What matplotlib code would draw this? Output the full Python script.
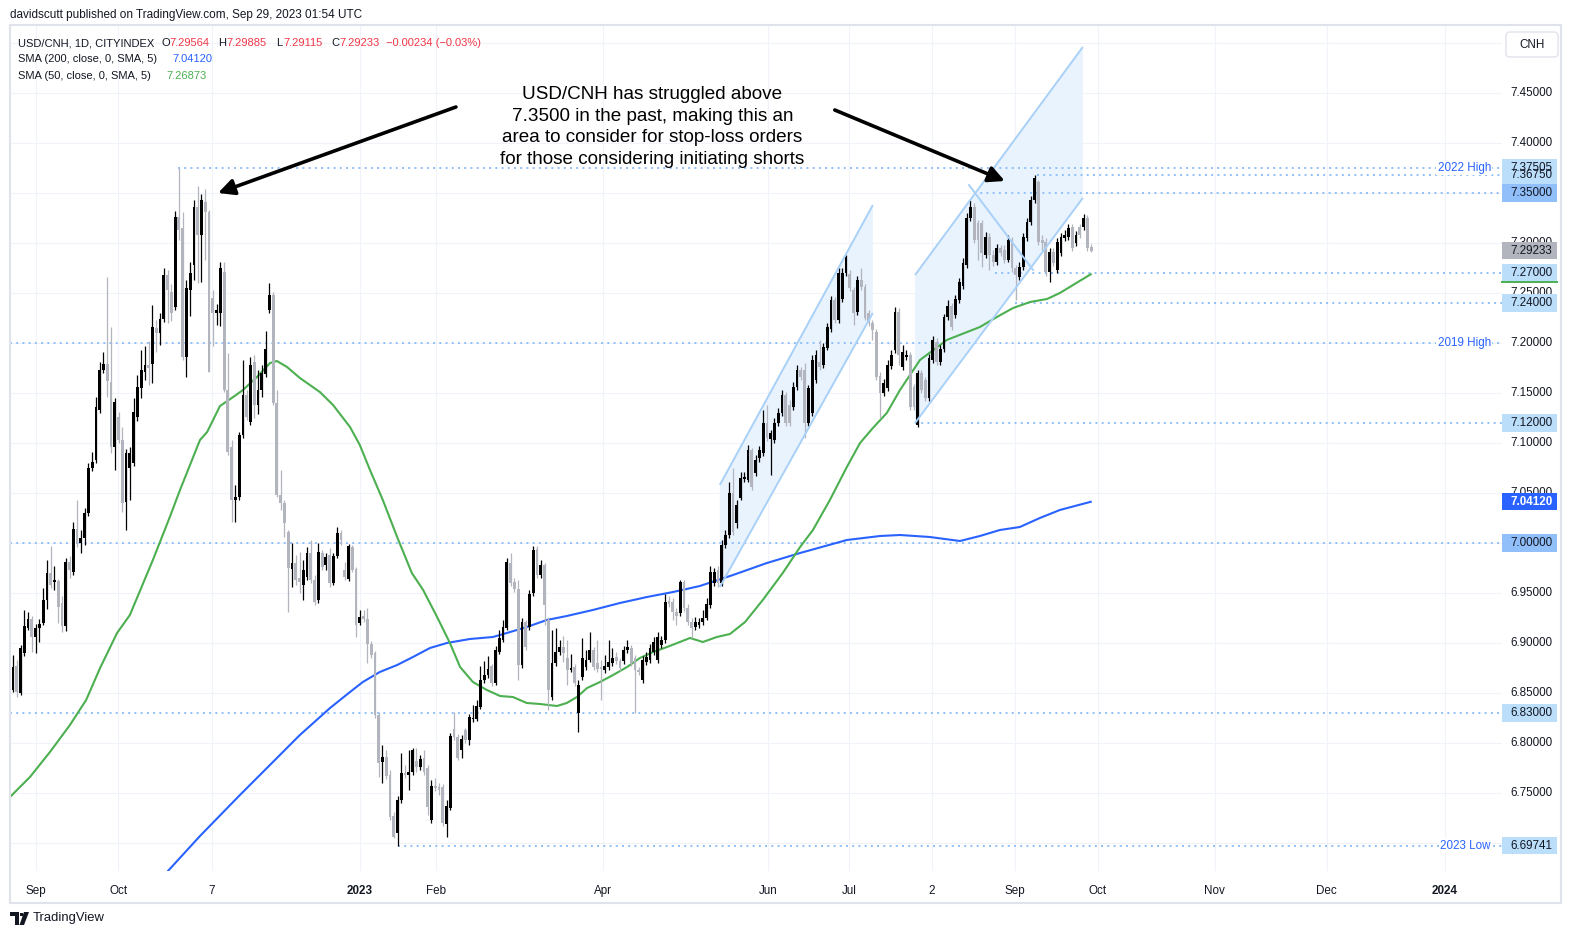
import matplotlib
matplotlib.use("Agg")
import matplotlib.pyplot as plt
import matplotlib.transforms as mtransforms
from matplotlib.patches import Rectangle, Polygon, FancyBboxPatch

W, H = 1572, 939
plt.rcParams['font.family'] = ['Liberation Sans', 'DejaVu Sans']

# daily candles, USD/CNH, 24 Aug 2022 .. 29 Sep 2023 (bar index = x)
opens = [6.853, 6.877, 6.850, 6.890, 6.915, 6.924, 6.906, 6.915, 6.920, 6.943,
         6.970, 6.961, 6.962, 6.940, 6.917, 6.981, 6.971, 7.014, 7.000, 7.005,
         7.030, 7.075, 7.083, 7.133, 7.173, 7.179, 7.161, 7.096, 7.126, 7.103,
         7.041, 7.075, 7.080, 7.126, 7.155, 7.171, 7.178, 7.179, 7.215, 7.210,
         7.224, 7.268, 7.251, 7.236, 7.326, 7.315, 7.186, 7.253, 7.278, 7.336,
         7.308, 7.341, 7.331, 7.245, 7.230, 7.230, 7.271, 7.153, 7.096, 7.043,
         7.046, 7.108, 7.148, 7.121, 7.181, 7.138, 7.153, 7.169, 7.233, 7.248,
         7.140, 7.048, 7.040, 7.011, 6.974, 6.980, 6.965, 6.958, 6.966, 6.990,
         6.963, 6.943, 6.990, 6.978, 6.988, 6.960, 6.987, 7.010, 6.973, 6.964,
         6.996, 6.974, 6.920, 6.927, 6.924, 6.899, 6.890, 6.828, 6.781, 6.786,
         6.768, 6.727, 6.710, 6.743, 6.770, 6.768, 6.771, 6.782, 6.776, 6.785,
         6.775, 6.723, 6.757, 6.756, 6.756, 6.719, 6.735, 6.814, 6.806, 6.793,
         6.813, 6.803, 6.824, 6.824, 6.836, 6.863, 6.868, 6.877, 6.860, 6.891,
         6.903, 6.915, 6.980, 6.961, 6.954, 6.878, 6.921, 6.916, 6.950, 6.994,
         6.968, 6.978, 6.923, 6.846, 6.880, 6.891, 6.896, 6.885, 6.873, 6.876,
         6.830, 6.866, 6.876, 6.883, 6.893, 6.880, 6.876, 6.873, 6.876, 6.880,
         6.886, 6.882, 6.882, 6.893, 6.895, 6.885, 6.873, 6.863, 6.881, 6.883,
         6.891, 6.883, 6.898, 6.903, 6.942, 6.941, 6.931, 6.930, 6.961, 6.935,
         6.921, 6.916, 6.918, 6.921, 6.925, 6.938, 6.960, 6.973, 6.960, 6.998,
         7.008, 7.050, 7.020, 7.045, 7.064, 7.063, 7.093, 7.070, 7.085, 7.090,
         7.120, 7.104, 7.103, 7.120, 7.130, 7.148, 7.138, 7.136, 7.156, 7.173,
         7.173, 7.120, 7.130, 7.163, 7.181, 7.178, 7.195, 7.214, 7.243, 7.223,
         7.244, 7.270, 7.269, 7.253, 7.231, 7.263, 7.256, 7.230, 7.220, 7.211,
         7.167, 7.150, 7.155, 7.177, 7.193, 7.231, 7.176, 7.186, 7.188, 7.156,
         7.118, 7.170, 7.163, 7.145, 7.183, 7.201, 7.181, 7.194, 7.226, 7.237,
         7.228, 7.243, 7.257, 7.278, 7.325, 7.336, 7.320, 7.320, 7.288, 7.306,
         7.288, 7.281, 7.295, 7.293, 7.283, 7.303, 7.275, 7.266, 7.276, 7.305,
         7.321, 7.343, 7.361, 7.303, 7.301, 7.271, 7.291, 7.273, 7.290, 7.305,
         7.306, 7.316, 7.300, 7.316, 7.316, 7.325, 7.29564]
closes = [6.876, 6.851, 6.895, 6.917, 6.924, 6.906, 6.915, 6.919, 6.943, 6.970,
          6.958, 6.963, 6.936, 6.917, 6.981, 6.973, 7.014, 6.999, 7.005, 7.030,
          7.075, 7.081, 7.136, 7.173, 7.179, 7.162, 7.096, 7.141, 7.103, 7.040,
          7.090, 7.090, 7.131, 7.156, 7.173, 7.178, 7.175, 7.216, 7.210, 7.224,
          7.268, 7.253, 7.230, 7.326, 7.313, 7.186, 7.255, 7.270, 7.336, 7.308,
          7.343, 7.331, 7.171, 7.230, 7.233, 7.275, 7.153, 7.091, 7.043, 7.046,
          7.108, 7.148, 7.126, 7.178, 7.138, 7.153, 7.170, 7.194, 7.248, 7.140,
          7.048, 7.040, 7.020, 6.975, 6.980, 6.963, 6.961, 6.973, 6.990, 6.963,
          6.941, 6.991, 6.976, 6.986, 6.960, 6.987, 7.010, 7.003, 6.966, 6.997,
          6.973, 6.918, 6.926, 6.924, 6.899, 6.888, 6.828, 6.780, 6.786, 6.767,
          6.726, 6.706, 6.743, 6.770, 6.768, 6.771, 6.793, 6.776, 6.784, 6.771,
          6.736, 6.757, 6.755, 6.753, 6.720, 6.737, 6.807, 6.806, 6.785, 6.804,
          6.803, 6.826, 6.825, 6.837, 6.863, 6.868, 6.874, 6.860, 6.893, 6.905,
          6.916, 6.981, 6.960, 6.954, 6.878, 6.921, 6.896, 6.949, 6.993, 6.968,
          6.978, 6.938, 6.853, 6.880, 6.891, 6.896, 6.890, 6.873, 6.875, 6.860,
          6.858, 6.885, 6.883, 6.893, 6.876, 6.874, 6.874, 6.877, 6.881, 6.885,
          6.882, 6.875, 6.893, 6.896, 6.880, 6.873, 6.871, 6.883, 6.886, 6.895,
          6.901, 6.906, 6.903, 6.941, 6.939, 6.931, 6.927, 6.961, 6.935, 6.921,
          6.915, 6.921, 6.921, 6.925, 6.939, 6.971, 6.971, 6.960, 6.998, 7.008,
          7.050, 7.011, 7.038, 7.065, 7.066, 7.093, 7.056, 7.083, 7.093, 7.120,
          7.105, 7.110, 7.120, 7.130, 7.148, 7.120, 7.120, 7.156, 7.173, 7.166,
          7.120, 7.155, 7.183, 7.188, 7.176, 7.196, 7.216, 7.243, 7.223, 7.270,
          7.270, 7.286, 7.255, 7.230, 7.263, 7.256, 7.225, 7.220, 7.213, 7.166,
          7.150, 7.160, 7.178, 7.188, 7.231, 7.188, 7.191, 7.188, 7.136, 7.136,
          7.170, 7.153, 7.145, 7.185, 7.203, 7.181, 7.194, 7.226, 7.237, 7.216,
          7.244, 7.261, 7.280, 7.325, 7.336, 7.303, 7.303, 7.290, 7.306, 7.288,
          7.281, 7.295, 7.290, 7.283, 7.303, 7.275, 7.268, 7.276, 7.306, 7.321,
          7.343, 7.365, 7.301, 7.300, 7.271, 7.291, 7.280, 7.301, 7.306, 7.308,
          7.315, 7.295, 7.308, 7.308, 7.325, 7.295, 7.29233]
highs = [6.888, 6.883, 6.898, 6.933, 6.931, 6.927, 6.919, 6.924, 6.955, 6.983,
         6.997, 6.977, 6.964, 6.947, 6.985, 6.987, 7.021, 7.043, 7.013, 7.035,
         7.080, 7.091, 7.146, 7.181, 7.191, 7.266, 7.216, 7.145, 7.131, 7.116,
         7.094, 7.096, 7.145, 7.168, 7.193, 7.197, 7.202, 7.238, 7.223, 7.230,
         7.275, 7.273, 7.259, 7.332, 7.37505, 7.331, 7.263, 7.281, 7.343, 7.357,
         7.349, 7.354, 7.333, 7.253, 7.239, 7.281, 7.281, 7.190, 7.103, 7.058,
         7.111, 7.183, 7.153, 7.186, 7.188, 7.173, 7.178, 7.212, 7.260, 7.251,
         7.153, 7.073, 7.043, 7.013, 7.000, 6.988, 6.991, 6.983, 6.996, 7.003,
         6.968, 7.000, 6.993, 6.990, 6.995, 6.990, 7.016, 7.013, 6.981, 6.999,
         6.998, 6.976, 6.933, 6.933, 6.935, 6.902, 6.892, 6.831, 6.798, 6.793,
         6.773, 6.731, 6.747, 6.790, 6.778, 6.793, 6.795, 6.795, 6.788, 6.793,
         6.778, 6.763, 6.765, 6.760, 6.759, 6.743, 6.810, 6.831, 6.809, 6.808,
         6.815, 6.829, 6.838, 6.843, 6.877, 6.882, 6.887, 6.879, 6.897, 6.913,
         6.923, 6.985, 6.990, 6.965, 6.963, 6.925, 6.923, 6.953, 6.997, 6.997,
         6.983, 6.980, 6.926, 6.913, 6.915, 6.903, 6.907, 6.903, 6.889, 6.879,
         6.863, 6.905, 6.893, 6.911, 6.896, 6.903, 6.883, 6.888, 6.903, 6.895,
         6.891, 6.885, 6.897, 6.903, 6.898, 6.888, 6.876, 6.887, 6.891, 6.899,
         6.906, 6.911, 6.907, 6.949, 6.947, 6.945, 6.935, 6.963, 6.963, 6.939,
         6.925, 6.926, 6.925, 6.933, 6.945, 6.977, 6.975, 6.977, 7.003, 7.013,
         7.061, 7.075, 7.043, 7.071, 7.071, 7.098, 7.095, 7.088, 7.097, 7.133,
         7.138, 7.113, 7.125, 7.135, 7.153, 7.151, 7.143, 7.161, 7.178, 7.176,
         7.180, 7.158, 7.188, 7.193, 7.203, 7.200, 7.220, 7.247, 7.246, 7.275,
         7.275, 7.288, 7.273, 7.256, 7.267, 7.275, 7.259, 7.233, 7.223, 7.214,
         7.171, 7.164, 7.183, 7.193, 7.236, 7.235, 7.198, 7.193, 7.191, 7.159,
         7.173, 7.173, 7.166, 7.189, 7.207, 7.205, 7.198, 7.229, 7.243, 7.240,
         7.248, 7.265, 7.285, 7.330, 7.343, 7.340, 7.323, 7.323, 7.311, 7.310,
         7.293, 7.299, 7.298, 7.298, 7.308, 7.306, 7.278, 7.281, 7.310, 7.325,
         7.347, 7.3675, 7.363, 7.308, 7.305, 7.295, 7.295, 7.305, 7.310, 7.313,
         7.319, 7.319, 7.312, 7.319, 7.329, 7.328, 7.29885]
lows = [6.851, 6.846, 6.848, 6.887, 6.913, 6.891, 6.890, 6.901, 6.918, 6.934,
        6.955, 6.953, 6.920, 6.911, 6.912, 6.965, 6.968, 6.996, 6.990, 6.998,
        7.027, 7.072, 7.080, 7.130, 7.170, 7.146, 7.090, 7.073, 7.100, 7.031,
        7.013, 7.043, 7.077, 7.122, 7.145, 7.163, 7.158, 7.160, 7.191, 7.198,
        7.221, 7.220, 7.222, 7.233, 7.303, 7.183, 7.166, 7.227, 7.263, 7.260,
        7.261, 7.283, 7.171, 7.197, 7.218, 7.217, 7.151, 7.088, 7.021, 7.021,
        7.043, 7.105, 7.123, 7.118, 7.125, 7.129, 7.146, 7.166, 7.230, 7.138,
        7.046, 7.033, 7.006, 6.931, 6.956, 6.958, 6.950, 6.943, 6.963, 6.960,
        6.938, 6.940, 6.973, 6.973, 6.956, 6.958, 6.985, 6.998, 6.963, 6.962,
        6.971, 6.906, 6.918, 6.921, 6.880, 6.885, 6.825, 6.766, 6.760, 6.764,
        6.723, 6.705, 6.69741, 6.740, 6.765, 6.753, 6.768, 6.771, 6.773, 6.768,
        6.728, 6.720, 6.752, 6.748, 6.717, 6.706, 6.733, 6.803, 6.783, 6.785,
        6.800, 6.798, 6.821, 6.822, 6.834, 6.860, 6.865, 6.857, 6.858, 6.889,
        6.901, 6.913, 6.957, 6.951, 6.863, 6.875, 6.893, 6.913, 6.947, 6.965,
        6.965, 6.918, 6.833, 6.843, 6.877, 6.888, 6.881, 6.858, 6.871, 6.857,
        6.811, 6.863, 6.873, 6.881, 6.873, 6.871, 6.843, 6.870, 6.873, 6.877,
        6.879, 6.872, 6.879, 6.890, 6.877, 6.830, 6.868, 6.860, 6.878, 6.880,
        6.888, 6.880, 6.895, 6.900, 6.936, 6.923, 6.918, 6.927, 6.932, 6.918,
        6.905, 6.913, 6.915, 6.918, 6.923, 6.935, 6.957, 6.956, 6.957, 6.995,
        7.005, 7.008, 7.015, 7.043, 7.061, 7.061, 7.053, 7.067, 7.081, 7.087,
        7.102, 7.068, 7.100, 7.117, 7.127, 7.117, 7.117, 7.133, 7.153, 7.163,
        7.105, 7.117, 7.127, 7.160, 7.173, 7.175, 7.193, 7.211, 7.220, 7.220,
        7.241, 7.267, 7.252, 7.218, 7.228, 7.253, 7.223, 7.217, 7.203, 7.163,
        7.125, 7.147, 7.152, 7.174, 7.190, 7.178, 7.173, 7.183, 7.133, 7.133,
        7.116, 7.150, 7.142, 7.142, 7.180, 7.178, 7.178, 7.191, 7.223, 7.213,
        7.225, 7.240, 7.254, 7.275, 7.322, 7.300, 7.283, 7.276, 7.285, 7.273,
        7.277, 7.278, 7.287, 7.280, 7.281, 7.271, 7.243, 7.263, 7.273, 7.302,
        7.318, 7.340, 7.298, 7.293, 7.267, 7.261, 7.277, 7.270, 7.287, 7.302,
        7.303, 7.292, 7.297, 7.305, 7.313, 7.292, 7.29115]

sma50_x = [-0.8, 4.5, 9.8, 15.1, 19.4, 23.1, 27.6, 31.0, 37.1, 41.6, 44.3, 49.6,
           51.5, 54.9, 58.4, 61.0, 64.7, 68.2, 70.0, 72.7, 76.1, 78.0, 81.4, 84.9,
           89.4, 92.0, 94.7, 98.1, 101.9, 105.8, 108.8, 112.5, 115.9, 118.6, 122.0,
           125.7, 129.2, 132.6, 136.3, 139.8, 144.3, 146.9, 149.6, 152.3, 155.7,
           159.2, 162.9, 166.3, 169.8, 173.5, 176.9, 179.6, 183.0, 186.7, 190.2,
           194.2, 198.9, 204.2, 208.8, 212.2, 216.7, 221.2, 224.7, 228.1, 231.8,
           235.3, 240.6, 247.7, 256.5, 261.0, 265.3, 269.8, 274.3, 277.7, 281.2, 285.9]
sma50_y = [6.746, 6.766, 6.791, 6.818, 6.843, 6.875, 6.910, 6.928, 6.983, 7.026,
           7.053, 7.103, 7.111, 7.137, 7.146, 7.153, 7.166, 7.180, 7.182, 7.176,
           7.165, 7.160, 7.151, 7.138, 7.116, 7.098, 7.073, 7.043, 7.006, 6.970,
           6.953, 6.926, 6.900, 6.876, 6.861, 6.853, 6.847, 6.846, 6.840, 6.839,
           6.837, 6.840, 6.846, 6.855, 6.861, 6.868, 6.876, 6.885, 6.891, 6.896,
           6.901, 6.905, 6.901, 6.906, 6.909, 6.921, 6.943, 6.970, 6.996, 7.013,
           7.043, 7.076, 7.100, 7.115, 7.130, 7.153, 7.183, 7.203, 7.216, 7.226,
           7.235, 7.241, 7.244, 7.250, 7.258, 7.26873]

sma200_x = [39.0, 41.1, 49.6, 60.2, 70.8, 76.1, 84.1, 89.4, 92.8, 97.3, 101.9,
            106.1, 110.6, 115.1, 121.2, 127.3, 131.0, 136.3, 141.6, 146.9, 153.8,
            161.0, 168.2, 175.1, 182.2, 191.0, 200.0, 208.8, 221.2, 230.0, 235.3,
            243.2, 251.2, 256.5, 261.8, 267.1, 272.4, 277.7, 285.9]
sma200_y = [6.663, 6.672, 6.707, 6.748, 6.788, 6.808, 6.835, 6.851, 6.861, 6.871,
            6.878, 6.886, 6.895, 6.900, 6.904, 6.906, 6.910, 6.916, 6.923, 6.927,
            6.933, 6.940, 6.946, 6.951, 6.957, 6.968, 6.980, 6.990, 7.003, 7.007,
            7.008, 7.006, 7.002, 7.007, 7.013, 7.016, 7.025, 7.033, 7.0412]

tick_pos = [6.1, 27.9, 52.7, 92.0, 112.2, 156.6, 200.3, 221.8, 243.8, 265.7,
            287.8, 318.8, 348.5, 379.8]
tick_lbl = ['Sep', 'Oct', '7', '2023', 'Feb', 'Apr', 'Jun', 'Jul', '2', 'Sep',
            'Oct', 'Nov', 'Dec', '2024']
price_ticks = [7.45, 7.40, 7.30, 7.25, 7.20, 7.15, 7.10, 7.05, 6.95, 6.90,
               6.85, 6.80, 6.75]

level_price = [7.37505, 7.3675, 7.35, 7.27, 7.24, 7.1996, 7.12, 7.00, 6.83, 6.69741]
level_start = [43.8, 271.6, 255.0, 260.5, 265.8, -0.8, 239.3, -0.8, -0.8, 102.1]
level_names = ['2022 High', '', '', '', '', '2019 High', '', '', '', '2023 Low']

box_price = [7.37505, 7.3675, 7.35, 7.29233, 7.27, 7.24, 7.12, 7.0412, 7.00, 6.83, 6.69741]
box_face = ['#bbdefb', '#bbdefb', '#90bff9', '#b2b5be', '#bbdefb', '#bbdefb',
            '#bbdefb', '#2962ff', '#90bff9', '#bbdefb', '#bbdefb']

chan_a_x = [187.5, 228.1]
chan_a_up = [7.058, 7.338]
chan_a_lo = [6.956, 7.230]
chan_b_x = [239.3, 283.8]
chan_b_up = [7.268, 7.496]
chan_b_lo = [7.120, 7.345]
cross_x = [253.6, 270.6]
cross_y = [7.358, 7.273]

note = ("USD/CNH has struggled above\n7.3500 in the past, making this an\n"
        "area to consider for stop-loss orders\nfor those considering initiating shorts")

DARK = '#131722'
UP = '#000000'
DOWN = '#b2b5be'
BLUE = '#2962ff'
GREEN = '#4caf50'
LEVEL = '#90bff9'

fig = plt.figure(figsize=(W / 100, H / 100), dpi=100)
fig.patch.set_facecolor('white')
ax = fig.add_axes([10 / W, 1 - 871 / H, 1492 / W, 846 / H])
ax.set_xlim(-0.8, 395.0)
ax.set_ylim(6.672, 7.518)
ax.set_axis_off()

# grid
for p in [6.70 + 0.05 * k for k in range(17)]:
    ax.axhline(p, color='#f0f3fa', lw=0.8, zorder=0)
for t in tick_pos:
    ax.axvline(t, color='#f0f3fa', lw=0.8, zorder=0)

# channels
for cx, up, lo in [(chan_a_x, chan_a_up, chan_a_lo), (chan_b_x, chan_b_up, chan_b_lo)]:
    ax.add_patch(Polygon([(cx[0], lo[0]), (cx[0], up[0]), (cx[1], up[1]), (cx[1], lo[1])],
                         closed=True, facecolor='#e9f3fe', edgecolor='none', zorder=1))
    ax.plot(cx, up, color='#a9d0f7', lw=1.4, zorder=4, solid_capstyle='butt')
    ax.plot(cx, lo, color='#a9d0f7', lw=1.4, zorder=4, solid_capstyle='butt')
ax.plot(cross_x, cross_y, color='#a9d0f7', lw=1.4, zorder=4)

# horizontal levels
for p, s, name in zip(level_price, level_start, level_names):
    ax.plot([s, 395.0], [p, p], color=LEVEL, lw=1.4, ls=(0, (1, 2.2)), zorder=1.5)
    if name:
        ax.text(0.9926, p, name, transform=ax.get_yaxis_transform(), ha='right',
                va='center', fontsize=8.4, color=BLUE, zorder=6,
                bbox=dict(facecolor='white', edgecolor='none', pad=1.0))

# moving averages
ax.plot(sma200_x, sma200_y, color=BLUE, lw=1.5, zorder=2)
ax.plot(sma50_x, sma50_y, color=GREEN, lw=1.5, zorder=2)

# candles
for i in range(len(opens)):
    o, c, hi, lo = opens[i], closes[i], highs[i], lows[i]
    col = UP if c >= o else DOWN
    ax.plot([i, i], [lo, hi], color=col, lw=0.9, zorder=3, solid_capstyle='butt')
    ax.add_patch(Rectangle((i - 0.37, min(o, c)), 0.74, max(abs(c - o), 0.0012),
                           facecolor=col, edgecolor='none', zorder=3))

# arrows
ax.annotate('', xy=(54.4, 7.350), xytext=(117.5, 7.436),
            arrowprops=dict(arrowstyle='-|>', color='black', lw=2.6,
                            mutation_scale=24, shrinkA=0, shrinkB=0), zorder=5)
ax.annotate('', xy=(263.1, 7.362), xytext=(218.0, 7.433),
            arrowprops=dict(arrowstyle='-|>', color='black', lw=2.6,
                            mutation_scale=24, shrinkA=0, shrinkB=0), zorder=5)
ax.text(169.6, 7.416, note, ha='center', va='center', fontsize=13.6,
        color='black', linespacing=1.38, zorder=6)

# price scale
ytr = ax.get_yaxis_transform()
for p in price_ticks:
    ax.text(1.0054, p, f'{p:.5f}', transform=ytr, ha='left', va='center',
            fontsize=8.4, color=DARK, clip_on=False, zorder=6)
for p, fc in zip(box_price, box_face):
    ax.add_patch(Rectangle((1.0, p - 0.0087), 0.0369, 0.0174, transform=ytr,
                           facecolor=fc, edgecolor='none', clip_on=False, zorder=7))
    ax.text(1.0054, p, f'{p:.5f}', transform=ytr, ha='left', va='center',
            fontsize=8.4, color='white' if fc == BLUE else DARK,
            fontweight='bold' if fc == BLUE else 'normal', clip_on=False, zorder=8)
ax.plot([1.0, 1.0369], [7.2605, 7.2605], transform=ytr, color=GREEN, lw=1.4,
        clip_on=False, zorder=8)

# time scale
xtr = mtransforms.blended_transform_factory(ax.transData, ax.transAxes)
for t, lbl in zip(tick_pos, tick_lbl):
    bold = lbl in ('2023', '2024')
    ax.text(t, -0.0235, lbl, transform=xtr, ha='center', va='center', fontsize=8.4,
            color=DARK, fontweight='bold' if bold else 'normal', clip_on=False)

# frame, header, footer
pix = mtransforms.Affine2D().scale(1 / W, 1 / H) + fig.transFigure
fig.patches.append(Rectangle((10, H - 903), 1551, 878, transform=pix, fill=False,
                             edgecolor='#e0e3eb', lw=1.5))
fig.patches.append(FancyBboxPatch((1506, H - 57), 52, 25, transform=pix,
                                  boxstyle='round,pad=0,rounding_size=4',
                                  facecolor='white', edgecolor='#e0e3eb', lw=1.0))
fig.text(1532 / W, 1 - 44.5 / H, 'CNH', ha='center', va='center', fontsize=8.4, color=DARK)

fig.text(10 / W, 1 - 15 / H, 'davidscutt published on TradingView.com, Sep 29, 2023 01:54 UTC',
         ha='left', va='center', fontsize=8.5, color=DARK)

hdr = [(18, 43, 'USD/CNH, 1D, CITYINDEX', DARK),
       (161, 43, 'O', DARK), (169, 43, '7.29564', '#f23645'),
       (218, 43, 'H', DARK), (226, 43, '7.29885', '#f23645'),
       (276, 43, 'L', DARK), (283, 43, '7.29115', '#f23645'),
       (331, 43, 'C', DARK), (339, 43, '7.29233', '#f23645'),
       (386, 43, '\u22120.00234 (\u22120.03%)', '#f23645'),
       (18, 59, 'SMA (200, close, 0, SMA, 5)', DARK), (172, 59, '7.04120', BLUE),
       (18, 76, 'SMA (50, close, 0, SMA, 5)', DARK), (166, 76, '7.26873', GREEN)]
for x, y, s, col in hdr:
    fig.text(x / W, 1 - y / H, s, ha='left', va='center', fontsize=8.0, color=col)

# TradingView logo
fig.patches.append(Polygon([(10, H - 912), (19, H - 912), (19, H - 925), (15, H - 925),
                            (15, H - 916), (10, H - 916)], closed=True, transform=pix,
                           facecolor=DARK, edgecolor='none'))
fig.patches.append(Polygon([(24, H - 912), (29, H - 912), (24, H - 925), (19.5, H - 925)],
                           closed=True, transform=pix, facecolor=DARK, edgecolor='none'))
fig.patches.append(Rectangle((19.5, H - 916), 3, 3, transform=pix, facecolor=DARK,
                             edgecolor='none'))
fig.text(33 / W, 1 - 918.5 / H, 'TradingView', ha='left', va='center', fontsize=9.4,
         color=DARK)

fig.savefig('out.png', dpi=100, facecolor='white')
